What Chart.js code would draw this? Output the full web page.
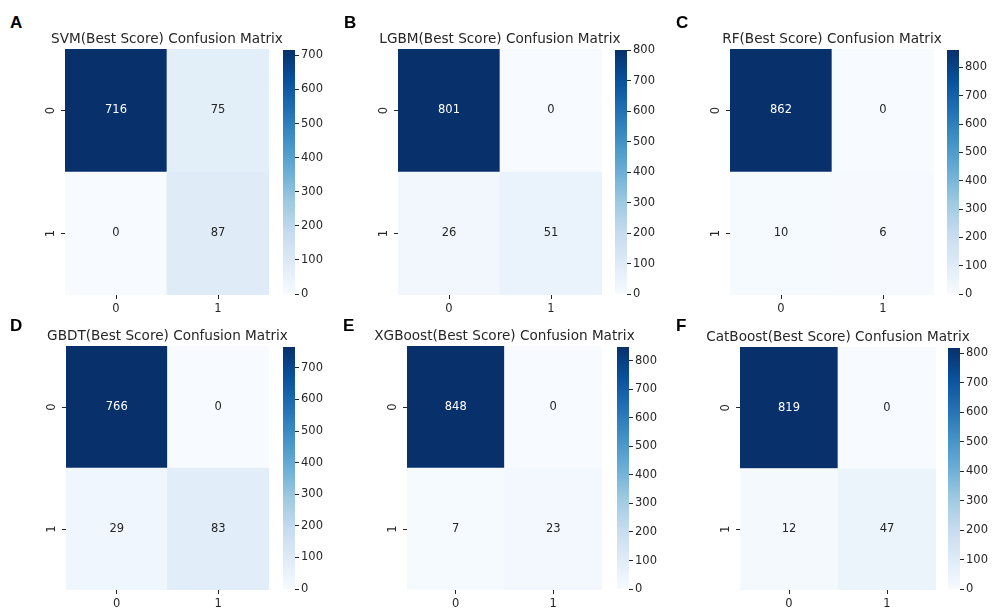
<!DOCTYPE html>
<html>
<head>
<meta charset="utf-8">
<script src="https://cdn.jsdelivr.net/npm/chart.js@4/dist/chart.umd.min.js"></script>
<style>
html, body { margin: 0; padding: 0; background: #fff; }
#fig { position: relative; width: 992px; height: 611px; overflow: hidden; background: #fff; }
#fig canvas { position: absolute; }
.tag { position: absolute; font: bold 17px "Liberation Sans", Arial, sans-serif; line-height: 17px; color: #000; }
</style>
</head>
<body>
<div id="fig"></div>
<script>
// --- dados ---
const CLASSES = ['0', '1'];
const MODELS = ['SVM', 'LGBM', 'RF', 'GBDT', 'XGBoost', 'CatBoost'];
const SVM_CM = [[716, 75], [0, 87]];
const LGBM_CM = [[801, 0], [26, 51]];
const RF_CM = [[862, 0], [10, 6]];
const GBDT_CM = [[766, 0], [29, 83]];
const XGB_CM = [[848, 0], [7, 23]];
const CAT_CM = [[819, 0], [12, 47]];
const MATRICES = [SVM_CM, LGBM_CM, RF_CM, GBDT_CM, XGB_CM, CAT_CM];
const CBAR_STEP = 100;

// --- layout (pixels) ---
const BOXES = [
  { tag: 'A', tx: 10,  ty: 14,  l: 65,  t: 49,  r: 269, b: 295, cb: 283 },
  { tag: 'B', tx: 344, ty: 14,  l: 398, t: 49,  r: 602, b: 295, cb: 615 },
  { tag: 'C', tx: 676, ty: 14,  l: 730, t: 49,  r: 934, b: 295, cb: 947 },
  { tag: 'D', tx: 10,  ty: 317, l: 66,  t: 346, r: 269, b: 590, cb: 283 },
  { tag: 'E', tx: 343, ty: 317, l: 407, t: 346, r: 602, b: 590, cb: 617 },
  { tag: 'F', tx: 676, ty: 317, l: 740, t: 347, r: 936, b: 590, cb: 948 },
];
const SIDE = 55, TITLE_H = 20, XAXIS_H = 25, CB_W = 12;
const INK = '#262626';
const FONT = '"DejaVu Sans", Verdana, sans-serif';

// matplotlib "Blues"
const BLUES = [[247,251,255],[222,235,247],[198,219,239],[158,202,225],[107,174,214],[66,146,198],[33,113,181],[8,81,156],[8,48,107]];
function blues(t) {
  t = Math.max(0, Math.min(1, t));
  const x = t * 8, i = Math.min(7, Math.floor(x)), f = x - i;
  return BLUES[i].map((c, k) => c + (BLUES[i + 1][k] - c) * f);
}
const rgb = (c) => `rgb(${c.map(Math.round).join(',')})`;
function textOn(c) {
  const lin = c.map(v => { v /= 255; return v <= 0.03928 ? v / 12.92 : Math.pow((v + 0.055) / 1.055, 2.4); });
  const lum = 0.2126 * lin[0] + 0.7152 * lin[1] + 0.0722 * lin[2];
  return lum > 0.408 ? INK : '#fff';
}

Chart.defaults.font.family = FONT;
Chart.defaults.color = INK;
Chart.defaults.animation = false;

const fig = document.getElementById('fig');
function addCanvas(x, y, w, h) {
  const c = document.createElement('canvas');
  c.width = w; c.height = h;
  c.style.left = x + 'px'; c.style.top = y + 'px';
  c.style.width = w + 'px'; c.style.height = h + 'px';
  fig.appendChild(c);
  return c;
}

// numeros nas celulas, rotulos y girados e titulo centrado no heatmap
const cellText = {
  id: 'cellText',
  afterDatasetsDraw(chart, args, opts) {
    const ctx = chart.ctx;
    const area = chart.chartArea;
    ctx.save();
    ctx.font = '11.5px ' + FONT;
    ctx.textAlign = 'center';
    ctx.textBaseline = 'middle';
    chart.data.datasets.forEach((ds, i) => {
      chart.getDatasetMeta(i).data.forEach((bar, j) => {
        ctx.fillStyle = ds.inks[j];
        ctx.fillText(String(ds.cells[j]), bar.x, (bar.y + bar.base) / 2);
      });
    });
    // y tick labels, vertical like seaborn
    const ys = chart.scales.y;
    ctx.fillStyle = INK;
    ys.ticks.forEach(tk => {
      const row = CLASSES.length - 1 - Math.floor(tk.value);
      ctx.save();
      ctx.translate(area.left - 14, ys.getPixelForValue(tk.value));
      ctx.rotate(-Math.PI / 2);
      ctx.fillText(CLASSES[row], 0, 0);
      ctx.restore();
    });
    // title
    ctx.font = '13.6px ' + FONT;
    ctx.fillText(opts.title, (area.left + area.right) / 2, area.top - 10);
    ctx.restore();
  }
};

MATRICES.forEach((cm, p) => {
  const box = BOXES[p];
  const flat = cm.flat();
  const vmin = Math.min(...flat), vmax = Math.max(...flat);
  const norm = (v) => (v - vmin) / (vmax - vmin);

  const tag = document.createElement('div');
  tag.className = 'tag';
  tag.textContent = box.tag;
  tag.style.left = box.tx + 'px';
  tag.style.top = box.ty + 'px';
  fig.appendChild(tag);

  // heatmap: stacked unit bars, bottom row first
  const rows = cm.map((_, r) => r).reverse();
  const datasets = rows.map(r => {
    const cols = cm[r].map(v => blues(norm(v)));
    return {
      label: 'row ' + CLASSES[r],
      data: cm[r].map(() => 1),
      cells: cm[r],
      inks: cols.map(textOn),
      backgroundColor: cols.map(rgb),
      borderWidth: 0,
      barPercentage: 1,
      categoryPercentage: 1,
    };
  });

  const w = (box.r - box.l) + 2 * SIDE;
  const h = (box.b - box.t) + TITLE_H + XAXIS_H;
  const hm = addCanvas(box.l - SIDE, box.t - TITLE_H, w, h);
  new Chart(hm, {
    type: 'bar',
    data: { labels: CLASSES, datasets },
    options: {
      responsive: false,
      devicePixelRatio: 1,
      layout: { padding: { left: 0, right: SIDE, top: TITLE_H, bottom: 0 } },
      plugins: {
        legend: { display: false },
        tooltip: { enabled: false },
        title: { display: false },
        cellText: { title: MODELS[p] + '(Best Score) Confusion Matrix' },
      },
      scales: {
        x: {
          type: 'category',
          stacked: true,
          offset: true,
          grid: { display: true, drawOnChartArea: false, drawTicks: true, tickLength: 4, color: INK, offset: false },
          border: { display: false },
          ticks: { font: { size: 11.5 }, color: INK, padding: 3, maxRotation: 0 },
          afterFit: (s) => { s.height = XAXIS_H; },
        },
        y: {
          type: 'linear',
          stacked: true,
          min: 0,
          max: CLASSES.length,
          afterBuildTicks: (s) => { s.ticks = CLASSES.map((_, i) => ({ value: i + 0.5 })); },
          grid: { display: true, drawOnChartArea: false, drawTicks: true, tickLength: 4, color: INK },
          border: { display: false },
          ticks: { display: false },
          afterFit: (s) => { s.width = SIDE; },
        },
      },
    },
    plugins: [cellText],
  });

  // colorbar
  const pad = 8;
  const cbc = addCanvas(box.cb, box.t - pad, CB_W + 45, (box.b - box.t) + 2 * pad);
  new Chart(cbc, {
    type: 'bar',
    data: {
      labels: [''],
      datasets: [{
        data: [[vmin, vmax]],
        backgroundColor: (ctx) => {
          const a = ctx.chart.chartArea;
          if (!a) return rgb(BLUES[4]);
          const g = ctx.chart.ctx.createLinearGradient(0, a.bottom, 0, a.top);
          BLUES.forEach((c, i) => g.addColorStop(i / (BLUES.length - 1), rgb(c)));
          return g;
        },
        borderWidth: 0,
        barPercentage: 1,
        categoryPercentage: 1,
      }],
    },
    options: {
      responsive: false,
      devicePixelRatio: 1,
      layout: { padding: { left: 0, right: 0, top: pad, bottom: pad } },
      plugins: { legend: { display: false }, tooltip: { enabled: false } },
      scales: {
        x: { display: false },
        y: {
          position: 'right',
          min: vmin,
          max: vmax,
          afterBuildTicks: (s) => {
            const t = [];
            for (let v = Math.ceil(vmin / CBAR_STEP) * CBAR_STEP; v <= vmax; v += CBAR_STEP) t.push({ value: v });
            s.ticks = t;
          },
          grid: { display: true, drawOnChartArea: false, drawTicks: true, tickLength: 4, color: INK },
          border: { display: false },
          ticks: { font: { size: 11.5 }, color: INK, padding: 2 },
          afterFit: (s) => { s.width = 45; },
        },
      },
    },
  });
});
</script>
</body>
</html>
